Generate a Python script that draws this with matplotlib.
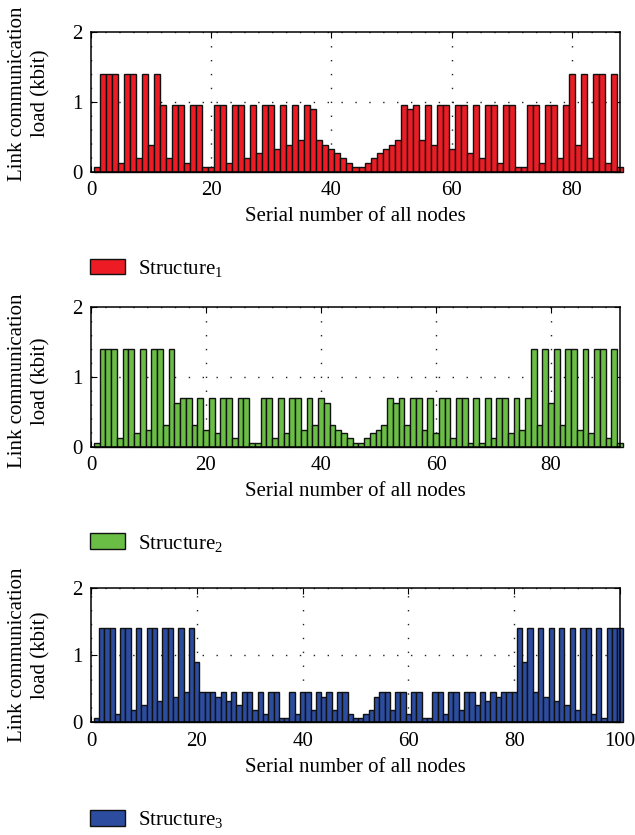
import numpy as np
import matplotlib.pyplot as plt
from matplotlib.patches import Patch

plt.rcParams['font.family'] = ['Liberation Serif', 'DejaVu Serif']
plt.rcParams['mathtext.fontset'] = 'custom'
plt.rcParams['mathtext.rm'] = 'Liberation Serif'
plt.rcParams['mathtext.it'] = 'Liberation Serif:italic'

# -------------------------------------------
# link communication load of every node (kbit)
# -------------------------------------------
structure1 = [
    0.06, 1.4, 1.4, 1.4, 0.13, 1.4, 1.4, 0.2, 1.4, 0.38,
    1.4, 0.95, 0.2, 0.95, 0.95, 0.13, 0.95, 0.95, 0.06, 0.06,
    0.95, 0.95, 0.13, 0.95, 0.95, 0.2, 0.95, 0.26, 0.95, 0.95,
    0.32, 0.95, 0.38, 0.95, 0.45, 0.95, 0.89, 0.45, 0.38, 0.32,
    0.26, 0.2, 0.13, 0.06, 0.06, 0.13, 0.2, 0.26, 0.32, 0.38,
    0.45, 0.95, 0.89, 0.95, 0.45, 0.95, 0.38, 0.95, 0.95, 0.32,
    0.95, 0.95, 0.26, 0.95, 0.2, 0.95, 0.95, 0.13, 0.95, 0.95,
    0.06, 0.06, 0.95, 0.95, 0.13, 0.95, 0.95, 0.2, 0.95, 1.4,
    0.38, 1.4, 0.2, 1.4, 1.4, 0.13, 1.4, 0.06,
]
structure2 = [
    0.06, 1.4, 1.4, 1.4, 0.12, 1.4, 1.4, 0.19, 1.4, 0.24,
    1.4, 1.4, 0.31, 1.4, 0.63, 0.7, 0.7, 0.31, 0.7, 0.24,
    0.7, 0.19, 0.7, 0.7, 0.12, 0.7, 0.7, 0.06, 0.06, 0.7,
    0.7, 0.12, 0.7, 0.19, 0.7, 0.7, 0.24, 0.7, 0.31, 0.7,
    0.63, 0.31, 0.24, 0.19, 0.12, 0.06, 0.06, 0.12, 0.19, 0.24,
    0.31, 0.7, 0.63, 0.7, 0.31, 0.7, 0.7, 0.24, 0.7, 0.19,
    0.7, 0.7, 0.12, 0.7, 0.7, 0.06, 0.7, 0.06, 0.7, 0.12,
    0.7, 0.7, 0.19, 0.7, 0.24, 0.7, 1.4, 0.31, 1.4, 0.63,
    1.4, 0.31, 1.4, 1.4, 0.24, 1.4, 0.19, 1.4, 1.4, 0.12,
    1.4, 0.06,
]
structure3 = [
    0.06, 1.4, 1.4, 1.4, 0.13, 1.4, 1.4, 0.19, 1.4, 0.25,
    1.4, 1.4, 0.31, 1.4, 1.4, 0.38, 1.4, 0.45, 1.4, 0.9,
    0.45, 0.45, 0.45, 0.38, 0.45, 0.31, 0.45, 0.25, 0.45, 0.45,
    0.19, 0.45, 0.13, 0.45, 0.45, 0.06, 0.06, 0.45, 0.13, 0.45,
    0.45, 0.19, 0.45, 0.38, 0.45, 0.19, 0.45, 0.45, 0.13, 0.06,
    0.06, 0.13, 0.19, 0.38, 0.45, 0.45, 0.19, 0.45, 0.45, 0.13,
    0.45, 0.45, 0.06, 0.06, 0.45, 0.45, 0.13, 0.45, 0.45, 0.19,
    0.45, 0.45, 0.25, 0.45, 0.31, 0.45, 0.38, 0.45, 0.45, 0.45,
    1.4, 0.9, 1.4, 0.45, 1.4, 0.38, 1.4, 0.31, 1.4, 0.25,
    1.4, 0.19, 1.4, 1.4, 0.13, 1.4, 0.06, 1.4, 1.4, 1.4,
]

labels = ['Structure$_\\mathregular{1}$', 'Structure$_\\mathregular{2}$',
          'Structure$_\\mathregular{3}$']
colors = ['#ED1C24', '#6ABD45', '#2B4C9F']
xmax = [88, 92, 100]

# axes rectangles (figure fraction) and legend / ylabel placement
rects = [[0.1433, 0.7944, 0.8331, 0.1677],
         [0.1433, 0.4650, 0.8331, 0.1677],
         [0.1433, 0.1350, 0.8331, 0.1608]]
legendY = [0.679, 0.3497, 0.018]
ylabelY = [0.56, 0.47, 0.5]

fig = plt.figure(figsize=(6.35, 8.35), dpi=100)

for k, vals in enumerate([structure1, structure2, structure3]):
    ax = fig.add_axes(rects[k])
    x = np.arange(1, len(vals) + 1)
    bars = ax.bar(x, vals, width=1.0, color=colors[k], edgecolor='#111111',
                  linewidth=1.0, zorder=2)
    for b in bars:
        b.set_clip_on(False)

    ax.set_xlim(0, xmax[k])
    ax.set_ylim(0, 2)
    ax.set_xticks(range(0, xmax[k] + 1, 20))
    ax.set_yticks([0, 1, 2])
    ax.tick_params(direction='in', top=True, right=True, length=4, width=0.8,
                   labelsize=15)
    ax.tick_params(axis='x', pad=7)
    ax.tick_params(axis='y', pad=6)
    for s in ax.spines.values():
        s.set_linewidth(1.1)
        s.set_zorder(3)

    ax.grid(True, linestyle=(0, (1, 9)), color='#222222', linewidth=1.0)
    ax.set_axisbelow(True)

    ax.set_xlabel('Serial number of all nodes', fontsize=15, labelpad=5)
    ax.text(-0.117, ylabelY[k], 'Link communication\nload (kbit)', rotation=90,
            ha='center', va='center', multialignment='center',
            transform=ax.transAxes, fontsize=15, linespacing=1.3)

    handle = Patch(facecolor=colors[k], edgecolor='#111111', linewidth=1.0,
                   label=labels[k])
    ax.legend(handles=[handle], loc='center left',
              bbox_to_anchor=(0.1417, legendY[k]), bbox_transform=fig.transFigure,
              frameon=False, fontsize=15, handlelength=1.68, handleheight=0.77,
              handletextpad=0.62, borderpad=0, borderaxespad=0)

fig.savefig('out.png', dpi=100)
